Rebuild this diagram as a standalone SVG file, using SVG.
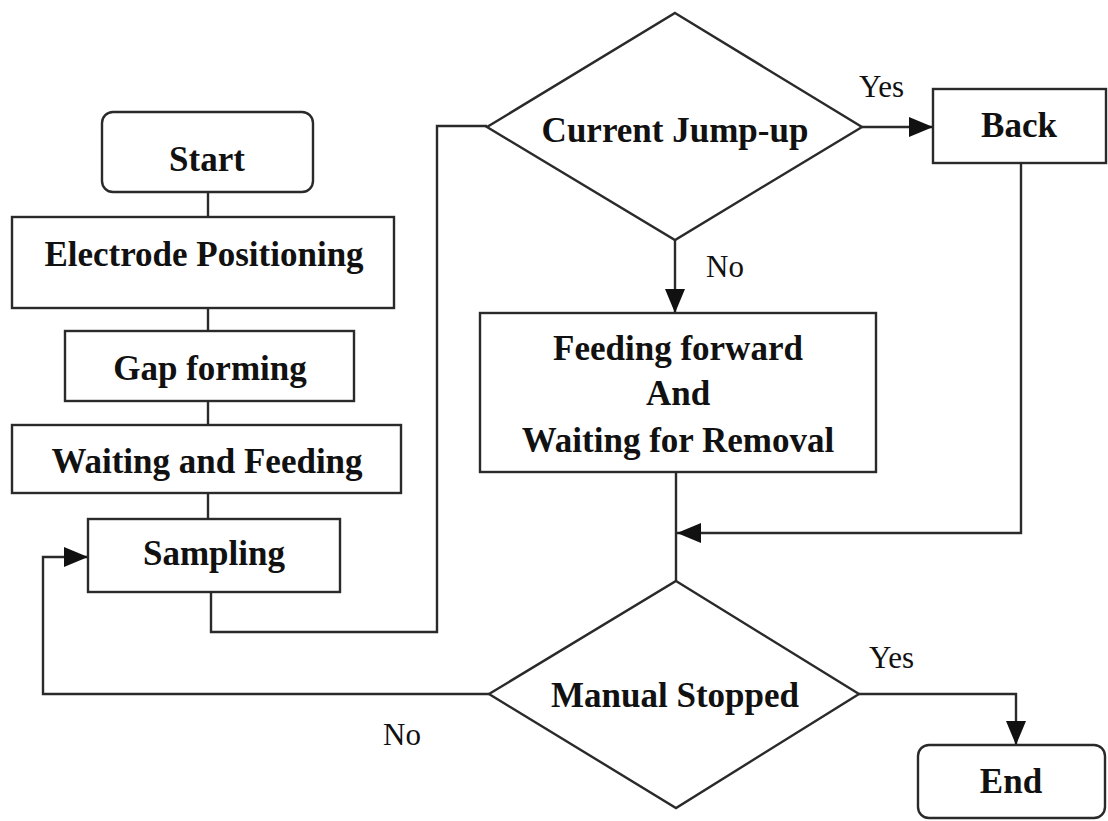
<svg xmlns="http://www.w3.org/2000/svg" width="1108" height="821" viewBox="0 0 1108 821">
  <style>
    .box { fill: #ffffff; stroke: #2a2a2a; stroke-width: 2.4; }
    .wire { fill: none; stroke: #2a2a2a; stroke-width: 2.4; }
    .lbl { font-family: "Liberation Serif", "Times New Roman", serif; font-weight: bold; font-size: 35px; fill: #111; text-anchor: middle; }
    .tag { font-family: "Liberation Serif", "Times New Roman", serif; font-size: 31px; fill: #111; }
  </style>
  <defs>
    <marker id="arrow" markerUnits="userSpaceOnUse" markerWidth="26" markerHeight="22" refX="24" refY="10" orient="auto">
      <path d="M0,0 L24,10 L0,20 Z" fill="#111"/>
    </marker>
  </defs>
  <rect width="1108" height="821" fill="#ffffff"/>

  <g id="connectors">
    <line class="wire" x1="208" y1="192" x2="208" y2="217"/>
    <line class="wire" x1="208" y1="308" x2="208" y2="331"/>
    <line class="wire" x1="208" y1="401" x2="208" y2="425"/>
    <line class="wire" x1="208" y1="493" x2="208" y2="519"/>
    <path class="wire" d="M211,592 V632 H437 V126 H487"/>
    <path class="wire" d="M862,127 H933" marker-end="url(#arrow)"/>
    <path class="wire" d="M675,240 V313" marker-end="url(#arrow)"/>
    <path class="wire" d="M676,472 V581"/>
    <path class="wire" d="M1021,163 V533 H677" marker-end="url(#arrow)"/>
    <path class="wire" d="M489,694 H43 V557 H88" marker-end="url(#arrow)"/>
    <path class="wire" d="M859,694 H1016 V745" marker-end="url(#arrow)"/>
  </g>

  <g id="start">
    <rect class="box" x="102" y="112" width="211" height="80" rx="11"/>
    <text class="lbl" x="207" y="171">Start</text>
  </g>
  <g id="electrode-positioning">
    <rect class="box" x="12" y="217" width="382" height="91"/>
    <text class="lbl" x="204" y="266">Electrode Positioning</text>
  </g>
  <g id="gap-forming">
    <rect class="box" x="65" y="331" width="289" height="70"/>
    <text class="lbl" x="210" y="380">Gap forming</text>
  </g>
  <g id="waiting-feeding">
    <rect class="box" x="12" y="425" width="389" height="68"/>
    <text class="lbl" x="207" y="473">Waiting and Feeding</text>
  </g>
  <g id="sampling">
    <rect class="box" x="88" y="519" width="252" height="73"/>
    <text class="lbl" x="214" y="565">Sampling</text>
  </g>
  <g id="current-jump-up">
    <polygon class="box" points="675,13 862,127 675,240 487,127"/>
    <text class="lbl" x="675" y="142">Current Jump-up</text>
    <text class="tag" x="859" y="97">Yes</text>
    <text class="tag" x="706" y="277">No</text>
  </g>
  <g id="back">
    <rect class="box" x="933" y="89" width="173" height="74"/>
    <text class="lbl" x="1019" y="137">Back</text>
  </g>
  <g id="feeding-forward">
    <rect class="box" x="480" y="313" width="396" height="159"/>
    <text class="lbl" x="678" y="360">Feeding forward</text>
    <text class="lbl" x="678" y="405">And</text>
    <text class="lbl" x="678" y="452">Waiting for Removal</text>
  </g>
  <g id="manual-stopped">
    <polygon class="box" points="676,581 859,694 676,808 489,694"/>
    <text class="lbl" x="675" y="707">Manual Stopped</text>
    <text class="tag" x="869" y="668">Yes</text>
    <text class="tag" x="383" y="745">No</text>
  </g>
  <g id="end">
    <rect class="box" x="918" y="745" width="187" height="73" rx="11"/>
    <text class="lbl" x="1011" y="793">End</text>
  </g>
</svg>
